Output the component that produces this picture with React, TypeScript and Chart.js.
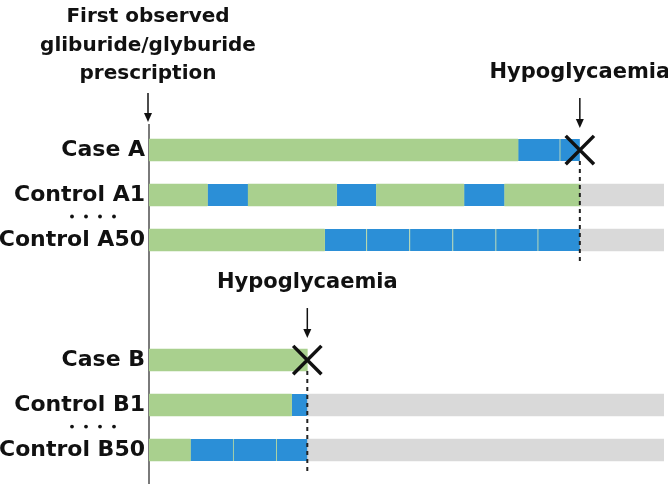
import React, { useEffect, useRef } from "react";
import { Chart, registerables } from "chart.js";

Chart.register(...registerables);

// Rows (label) and their vertical index on the timeline
const rowLabels = ["Case A", "Control A1", "Control A50", "Case B", "Control B1", "Control B50"];
const rowIndex = [0, 1, 2, 4.667, 5.667, 6.667];

// Time segments [row, start, end] (arbitrary time units, 0 = first prescription)
const greenSegments: [string, number, number][] = [
  ["Case A", 0, 73.6],
  ["Control A1", 0, 11.6],
  ["Control A1", 19.8, 37.4],
  ["Control A1", 45.4, 62.8],
  ["Control A1", 71, 86],
  ["Control A50", 0, 35],
  ["Case B", 0, 31.6],
  ["Control B1", 0, 28.4],
  ["Control B50", 0, 8.2],
];
const blueSegments: [string, number, number][] = [
  ["Case A", 73.6, 82],
  ["Case A", 82, 86],
  ["Control A1", 11.6, 19.8],
  ["Control A1", 37.4, 45.4],
  ["Control A1", 62.8, 71],
  ["Control A50", 35, 43.4],
  ["Control A50", 43.4, 52],
  ["Control A50", 52, 60.6],
  ["Control A50", 60.6, 69.2],
  ["Control A50", 69.2, 77.6],
  ["Control A50", 77.6, 86],
  ["Control B1", 28.4, 31.6],
  ["Control B50", 8.2, 16.8],
  ["Control B50", 16.8, 25.4],
  ["Control B50", 25.4, 31.6],
];
const greySegments: [string, number, number][] = [
  ["Control A1", 86, 102.8],
  ["Control A50", 86, 102.8],
  ["Control B1", 31.6, 102.8],
  ["Control B50", 31.6, 102.8],
];

// Hypoglycaemia events
const eventRows = ["Case A", "Case B"];
const eventTimes = [86, 31.6];
const eventLabel = "Hypoglycaemia";
const eventMatchedUntil = [2, 6.667]; // last matched control row
const dotRowsBetween = [1.5, 6.167];

const titleLines = ["First observed", "gliburide/glyburide", "prescription"];

const GREEN = "#a9d08e";
const BLUE = "#2b8fd7";
const GREY = "#d9d9d9";
const FONT = "'DejaVu Sans', sans-serif";

const rowOf = (name: string) => rowIndex[rowLabels.indexOf(name)];
const toPoints = (segs: [string, number, number][]) =>
  segs.map(([r, s, e]) => ({ x: [s, e], y: rowOf(r) }));

function arrow(ctx: CanvasRenderingContext2D, x: number, y1: number, y2: number) {
  ctx.save();
  ctx.strokeStyle = "#111";
  ctx.fillStyle = "#111";
  ctx.lineWidth = 1.5;
  ctx.beginPath();
  ctx.moveTo(x, y1);
  ctx.lineTo(x, y2 - 6);
  ctx.stroke();
  ctx.beginPath();
  ctx.moveTo(x - 4, y2 - 9);
  ctx.lineTo(x + 4, y2 - 9);
  ctx.lineTo(x, y2);
  ctx.closePath();
  ctx.fill();
  ctx.restore();
}

const overlay = {
  id: "overlay",
  afterDraw(chart: any) {
    const ctx: CanvasRenderingContext2D = chart.ctx;
    const xs = chart.scales.x;
    const ys = chart.scales.y;
    const area = chart.chartArea;
    ctx.save();
    // dashed lines on top of bars
    eventTimes.forEach((t, i) => {
      const px = xs.getPixelForValue(t);
      const y0 = ys.getPixelForValue(rowOf(eventRows[i])) + 11;
      let y1 = ys.getPixelForValue(eventMatchedUntil[i]) + 25;
      if (y1 > area.bottom) y1 = area.bottom;
      ctx.save();
      ctx.strokeStyle = "#222";
      ctx.lineWidth = 2;
      ctx.setLineDash([4, 4]);
      ctx.beginPath();
      ctx.moveTo(px, y0);
      ctx.lineTo(px, y1);
      ctx.stroke();
      ctx.restore();
    });
    // dots between controls
    ctx.fillStyle = "#111";
    dotRowsBetween.forEach((r) => {
      const py = ys.getPixelForValue(r) - 1;
      [77, 63, 49, 35].forEach((d) => {
        ctx.beginPath();
        ctx.arc(area.left - d, py, 1.9, 0, Math.PI * 2);
        ctx.fill();
      });
    });
    ctx.fillStyle = "#111";
    ctx.font = `bold 20px ${FONT}`;
    ctx.textAlign = "center";
    ctx.textBaseline = "middle";
    const cx = area.left - 1;
    titleLines.forEach((l, i) => ctx.fillText(l, cx, 17 + i * 28.5));
    arrow(ctx, cx, 93, 122);
    ctx.font = `bold 21px ${FONT}`;
    eventTimes.forEach((t, i) => {
      const px = xs.getPixelForValue(t);
      const py = ys.getPixelForValue(rowOf(eventRows[i]));
      ctx.fillStyle = "#111";
      ctx.fillText(eventLabel, px, py - 77);
      arrow(ctx, px, py - 52, py - 22);
    });
    ctx.restore();
  },
};

export default function App() {
  const ref = useRef<HTMLCanvasElement>(null);
  useEffect(() => {
    document.body.style.margin = "0";
    const chart = new Chart(ref.current!, {
      type: "bar",
      data: {
        datasets: [
          {
            type: "scatter",
            label: "events",
            data: eventRows.map((r, i) => ({ x: eventTimes[i], y: rowOf(r) })) as any,
            pointStyle: "crossRot",
            radius: 20,
            borderWidth: 3.5,
            borderColor: "#111",
            backgroundColor: "#111",
            clip: false,
            order: -1,
          } as any,
          {
            label: "green",
            data: toPoints(greenSegments) as any,
            backgroundColor: GREEN,
            borderWidth: 0,
            grouped: false,
            barThickness: 22,
          },
          {
            label: "blue",
            data: toPoints(blueSegments) as any,
            backgroundColor: BLUE,
            borderColor: "#b8d9a0",
            borderWidth: { left: 1, right: 0, top: 0, bottom: 0 },
            borderSkipped: false,
            grouped: false,
            barThickness: 22,
          },
          {
            label: "grey",
            data: toPoints(greySegments) as any,
            backgroundColor: GREY,
            borderWidth: 0,
            grouped: false,
            barThickness: 22,
          },
        ],
      },
      options: {
        indexAxis: "y",
        animation: false,
        responsive: true,
        maintainAspectRatio: false,
        layout: { autoPadding: false, padding: { top: 125, right: 4, bottom: 0, left: 0 } },
        plugins: { legend: { display: false }, tooltip: { enabled: false } },
        scales: {
          x: { type: "linear", min: 0, max: 102.8, display: false, offset: false },
          y: {
            type: "linear",
            reverse: true,
            offset: false,
            min: -0.556,
            max: 7.422,
            grid: { display: false, drawTicks: false },
            border: { display: true, color: "#7a7a7a", width: 2 },
            afterBuildTicks: (scale: any) => {
              scale.ticks = rowIndex.map((v) => ({ value: v }));
            },
            afterFit: (scale: any) => {
              scale.width = 149;
              scale.paddingTop = 0;
              scale.paddingBottom = 0;
            },
            ticks: {
              autoSkip: false,
              padding: 4,
              color: "#111",
              font: { family: FONT, weight: "bold", size: 22 },
              callback: (v: any) => {
                const i = rowIndex.indexOf(Number(v));
                return i >= 0 ? rowLabels[i] : "";
              },
            },
          },
        },
      },
      plugins: [overlay],
    });
    return () => chart.destroy();
  }, []);
  return (
    <div style={{ width: 668, height: 484, position: "relative" }}>
      <canvas ref={ref} />
    </div>
  );
}
